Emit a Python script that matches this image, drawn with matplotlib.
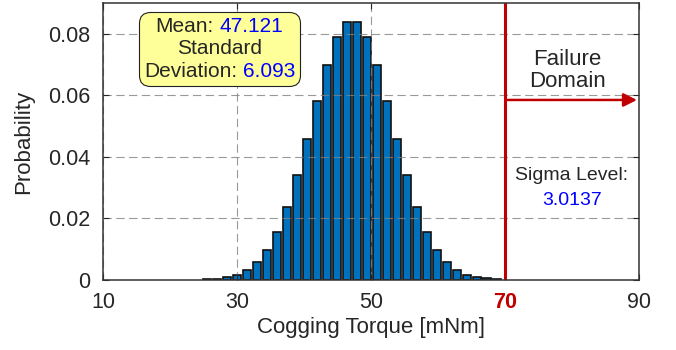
import numpy as np
import matplotlib.pyplot as plt
from matplotlib.offsetbox import TextArea, HPacker, VPacker, AnnotationBbox

plt.rcParams.update({
	'font.family': ['Liberation Sans', 'DejaVu Sans'],
	'font.size': 15.5,
})

# histogram of cogging torque samples (bin centres in mNm, probability per bin)
bin_centers = [25.52, 27.01, 28.50, 29.99, 31.48, 32.97, 34.46, 35.95, 37.44, 38.93,
			   40.42, 41.91, 43.40, 44.89, 46.38, 47.87, 49.36, 50.85, 52.34, 53.83,
			   55.32, 56.81, 58.30, 59.79, 61.28, 62.77, 64.26, 65.75, 67.24, 68.73]
probability = [0.0002, 0.0004, 0.0009, 0.0017, 0.0033, 0.0058, 0.0098, 0.0157, 0.0238, 0.0340,
			   0.0459, 0.0583, 0.0699, 0.0788, 0.0838, 0.0838, 0.0788, 0.0699, 0.0583, 0.0459,
			   0.0340, 0.0238, 0.0157, 0.0098, 0.0057, 0.0033, 0.0017, 0.0010, 0.0006, 0.0003]
mean_val = '47.121'
std_val = '6.093'
sigma_level = '3.0137'
limit = 70

xticks = [10, 30, 50, 70, 90]
yticks = [0, 0.02, 0.04, 0.06, 0.08]
ytick_labels = ['0', '0.02', '0.04', '0.06', '0.08']

red = '#C00000'
blue = '#0000FF'

fig = plt.figure(figsize=(6.76, 3.5), dpi=100)
ax = fig.add_axes([103/676, 70/350, 536/676, 277/350])

ax.bar(bin_centers, probability, width=1.2, color='#0072BD', edgecolor='#111111',
	   linewidth=1.2, zorder=1)

ax.set_xlim(10, 90)
ax.set_ylim(0, 0.09)
ax.set_xticks(xticks)
ax.set_yticks(yticks)
ax.set_yticklabels(ytick_labels)
ax.tick_params(direction='in', length=4, width=0.8, top=True, right=True, pad=9,
			   colors='#262626', labelcolor='#262626')
for lab in ax.get_xticklabels():
	if lab.get_text() == str(limit):
		lab.set_color(red)
		lab.set_fontweight('bold')

ax.set_axisbelow(False)
ax.grid(True, linestyle=(0, (7.5, 4)), color='0.5', alpha=0.8, linewidth=0.8)
for s in ax.spines.values():
	s.set_color('#333333')
	s.set_linewidth(1.1)
	s.set_zorder(5)

ax.set_xlabel('Cogging Torque [mNm]', fontsize=16, color='#262626')
ax.set_ylabel('Probability', fontsize=16, color='#262626')
ax.xaxis.set_label_coords(0.5, -0.135)
ax.yaxis.set_label_coords(-0.128, 0.5)

# failure limit and failure domain arrow
ax.axvline(limit, color=red, linewidth=2.2, zorder=4)
ax.annotate('', xy=(89.7, 0.0585), xytext=(70.4, 0.0585),
			arrowprops=dict(arrowstyle='-|>', color=red, lw=1.8, mutation_scale=20,
							shrinkA=0, shrinkB=0), zorder=4)
ax.text(79.36, 0.0681, 'Failure\nDomain', ha='center', va='center', fontsize=16,
		linespacing=1.05, color='#262626')
ax.text(80.0, 0.0339, 'Sigma Level:', ha='center', va='center', fontsize=14, color='#262626')
ax.text(80.0, 0.0257, sigma_level, ha='center', va='center', fontsize=14, color=blue)

# stats box with coloured numbers
tp = dict(fontsize=15, color='#262626')
tb = dict(fontsize=15, color=blue)
line1 = HPacker(children=[TextArea('Mean:', textprops=tp), TextArea(mean_val, textprops=tb)],
				sep=4, pad=0, align='baseline')
line2 = TextArea('Standard', textprops=tp)
line3 = HPacker(children=[TextArea('Deviation:', textprops=tp), TextArea(std_val, textprops=tb)],
				sep=4, pad=0, align='baseline')
stats = VPacker(children=[line1, line2, line3], sep=2.5, pad=0, align='center')
ab = AnnotationBbox(stats, (219.5, 301), xycoords='figure pixels', frameon=True,
					box_alignment=(0.5, 0.5), pad=0.5,
					bboxprops=dict(boxstyle='round,pad=0.25,rounding_size=0.55',
								   facecolor='#FFFF99', edgecolor='#222222', lw=0.8))
ab.set_zorder(6)
ax.add_artist(ab)

plt.savefig('out.png', dpi=100)
